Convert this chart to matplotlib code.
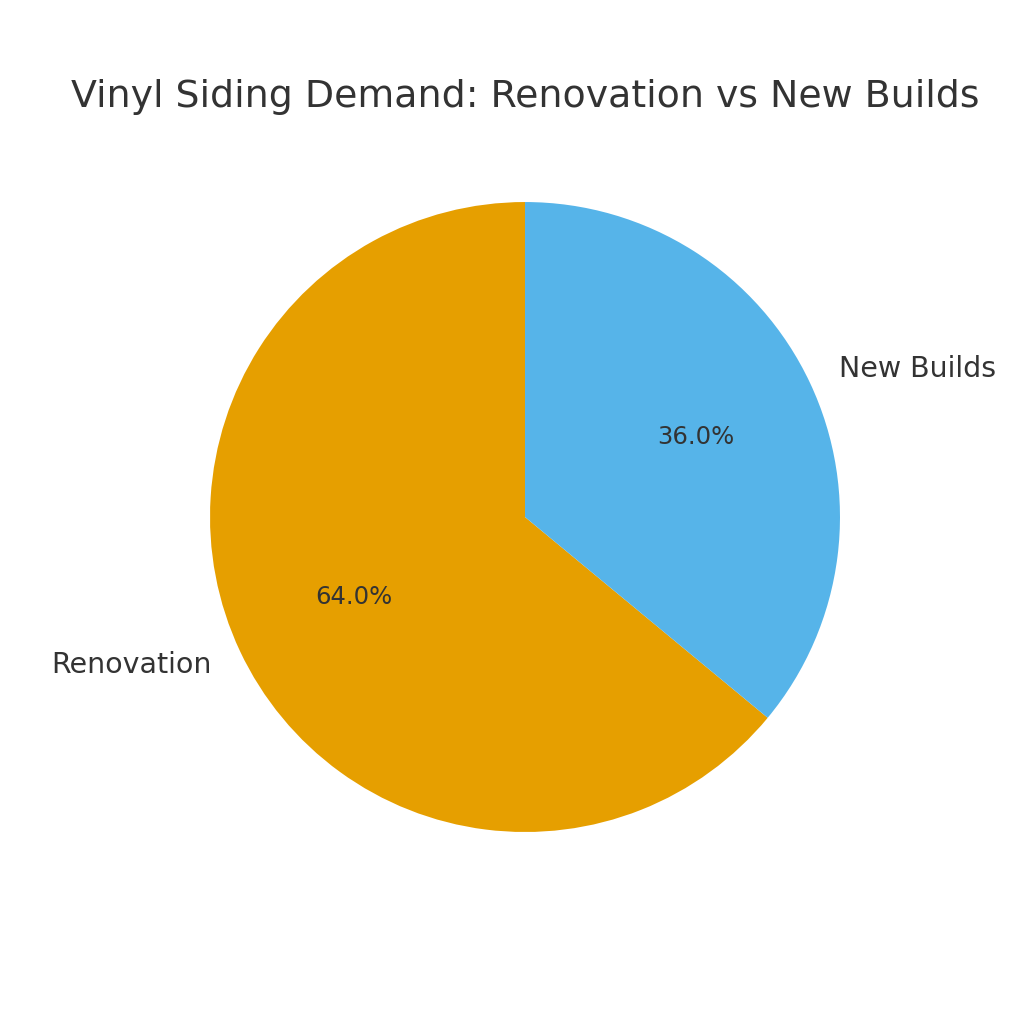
import matplotlib
matplotlib.use("Agg")
import matplotlib.pyplot as plt

categories = ["Renovation", "New Builds"]
values = [64.0, 36.0]
colors = ["#E69F00", "#56B4E9"]

plt.rcParams['font.family'] = ['DejaVu Sans']
fig = plt.figure(figsize=(10.24, 10.24), dpi=100)
ax = fig.add_axes([0.1282, 0.1106, 0.769, 0.769])
wedges, texts, autotexts = ax.pie(values, labels=categories, colors=colors, startangle=90,
                                  autopct='%1.1f%%', textprops={'color': '#333333', 'fontsize': 20.5})
for t in autotexts:
    t.set_fontsize(17.5)
ax.set_xlim(-1.25, 1.25)
ax.set_ylim(-1.25, 1.25)
ax.set_aspect('equal')
fig.text(0.5127, 1 - 97 / 1024, "Vinyl Siding Demand: Renovation vs New Builds", fontsize=27.3,
         color='#333333', ha='center', va='center')
fig.savefig("out.png", dpi=100)
